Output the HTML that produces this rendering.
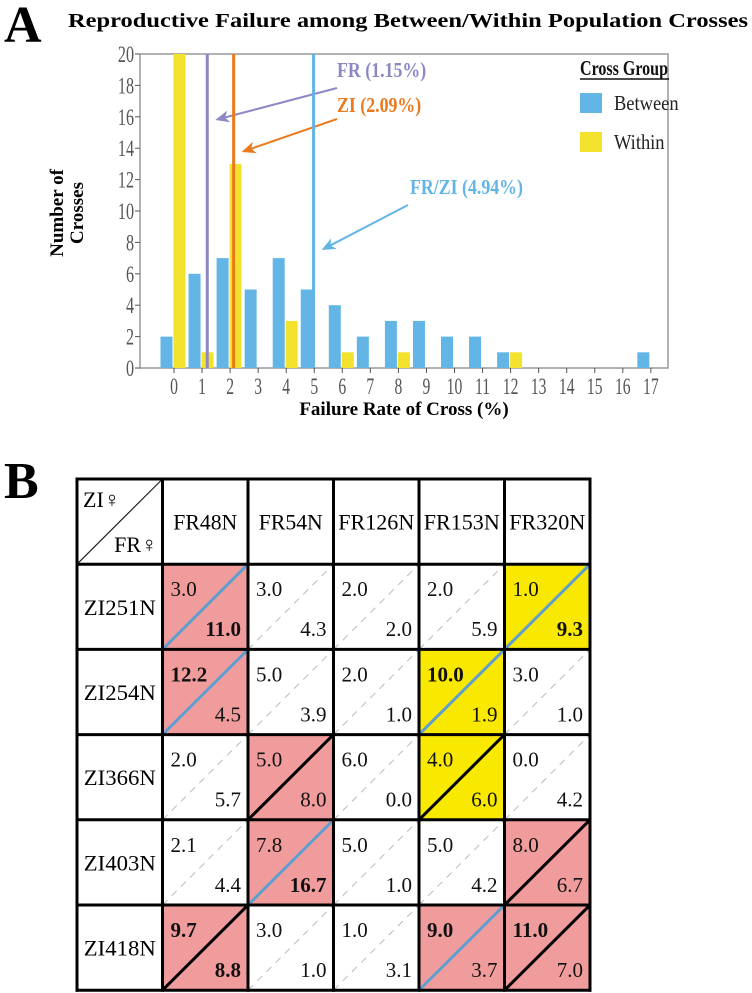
<!DOCTYPE html>
<html><head><meta charset="utf-8"><style>
html,body{margin:0;padding:0;background:#fff;width:752px;height:993px;overflow:hidden}
svg{display:block}
text{font-family:"Liberation Serif",serif}
</style></head><body>
<svg id="s" width="752" height="993" viewBox="0 0 752 993">
<text x="4" y="42" font-size="52" font-weight="bold">A</text>
<text x="68" y="27" font-size="19.5" font-weight="bold" textLength="680" lengthAdjust="spacingAndGlyphs">Reproductive Failure among Between/Within Population Crosses</text>
<g id="chart"></g>
<text x="4" y="498" font-size="52" font-weight="bold">B</text>
<g id="tbl"></g>
</svg>
<script>
const categories=[0,1,2,3,4,5,6,7,8,9,10,11,12,13,14,15,16,17];
const betweenValues=[2,6,7,5,7,5,4,2,3,3,2,2,1,0,0,0,0,1];
const withinValues=[20,1,13,0,3,0,1,0,1,0,0,0,1,0,0,0,0,0];
const yTicks=[0,2,4,6,8,10,12,14,16,18,20];
const refLabels=["FR (1.15%)","ZI (2.09%)","FR/ZI (4.94%)"];
const refValues=[1.15,2.09,4.94];
const NS='http://www.w3.org/2000/svg';
function mk(p,t,a){const e=document.createElementNS(NS,t);for(const k in a)e.setAttribute(k,a[k]);p.appendChild(e);return e;}
const L=140,R=668,T=54,B=368;
const x=v=>174+v*28.05;
const y=v=>B-(v/20)*(B-T);
const ch=document.getElementById('chart');
let r=mk(ch,'rect',{x:L,y:T,width:R-L,height:B-T,fill:'none',stroke:'#999','stroke-width':1.5});

yTicks.forEach(v=>{
 let l=mk(ch,'line',{x1:L-5,x2:L,y1:y(v),y2:y(v),stroke:'#555'});
 
 let t=mk(ch,'text',{x:L-6,y:y(v)+8,'text-anchor':'end','font-size':23,fill:'#555',transform:`translate(${L-6} 0) scale(0.7 1) translate(${-(L-6)} 0)`});
 t.textContent=v;
});
categories.forEach((c,i)=>{
 let l=mk(ch,'line',{x1:x(c),x2:x(c),y1:B,y2:B+5,stroke:'#555'});
 
 let t=mk(ch,'text',{x:x(c),y:B+26,'text-anchor':'middle','font-size':23,fill:'#555',transform:`translate(${x(c)} 0) scale(0.68 1) translate(${-x(c)} 0)`});
 t.textContent=c;
 if(betweenValues[i]>0){let b=mk(ch,'rect',{x:x(c)-13.5,y:y(betweenValues[i]),width:12,height:B-y(betweenValues[i]),fill:'#62b5e5'});
 }
 if(withinValues[i]>0){let b=mk(ch,'rect',{x:x(c)-0.5,y:y(withinValues[i]),width:12,height:B-y(withinValues[i]),fill:'#f2e22e'});
 }
});
const refColors=['#8c88c4','#ec7a1c','#62b5e5'];
const labelPos=[[337,77],[337,112],[410,194]];
const arrowStart=[[337,88],[337,119],[408,205]];
const arrowEndY=[120,152,250];
refValues.forEach((v,i)=>{
 let l=mk(ch,'line',{x1:x(v)+1,x2:x(v)+1,y1:T,y2:B,stroke:refColors[i],'stroke-width':3});
 
 const ex=x(v)+9,ey=arrowEndY[i],[sx,sy]=arrowStart[i];
 const ang=Math.atan2(ey-sy,ex-sx);
 let a=mk(ch,'line',{x1:sx,y1:sy,x2:ex-8*Math.cos(ang),y2:ey-8*Math.sin(ang),stroke:refColors[i],'stroke-width':2});
 
 const p=(d,s)=>[ex-d*Math.cos(ang)+s*Math.sin(ang),ey-d*Math.sin(ang)-s*Math.cos(ang)];
 const p1=p(14,6),p2=p(14,-6),p3=p(10,0);
 let h=mk(ch,'polygon',{points:`${ex},${ey} ${p1} ${p3} ${p2}`,fill:refColors[i]});
 
 let t=mk(ch,'text',{x:labelPos[i][0],y:labelPos[i][1],'font-size':21,'font-weight':'bold',fill:refColors[i],transform:`translate(${labelPos[i][0]} 0) scale(0.85 1) translate(${-labelPos[i][0]} 0)`});
 t.textContent=refLabels[i];
});
let lt=mk(ch,'text',{x:580,y:75,'font-size':21,'font-weight':'bold',fill:'#111',textLength:88,lengthAdjust:'spacingAndGlyphs'});
lt.textContent='Cross Group';
mk(ch,'line',{x1:580,x2:669,y1:79,y2:79,stroke:'#111','stroke-width':1.5});
[['Between','#62b5e5',93],['Within','#f2e22e',132]].forEach(([n,c,yy])=>{
 let s=mk(ch,'rect',{x:580,y:yy,width:22,height:20,fill:c});
 
 let t=mk(ch,'text',{x:614,y:yy+17,'font-size':21,fill:'#222',transform:`translate(614 0) scale(0.88 1) translate(-614 0)`});
 t.textContent=n;
});
let xt=mk(ch,'text',{x:404,y:415,'text-anchor':'middle','font-size':19,'font-weight':'bold'});
xt.textContent='Failure Rate of Cross (%)';
let yt=mk(ch,'text',{'text-anchor':'middle','font-size':19,'font-weight':'bold',transform:'translate(63 213) rotate(-90)'});

let ts1=mk(yt,'tspan',{x:0,y:0});ts1.textContent='Number of';
let ts2=mk(yt,'tspan',{x:0,y:20});ts2.textContent='Crosses';

// table
const colNames=['FR48N','FR54N','FR126N','FR153N','FR320N'];
const rowNames=['ZI251N','ZI254N','ZI366N','ZI403N','ZI418N'];
const topVals=[[3.0,3.0,2.0,2.0,1.0],[12.2,5.0,2.0,10.0,3.0],[2.0,5.0,6.0,4.0,0.0],[2.1,7.8,5.0,5.0,8.0],[9.7,3.0,1.0,9.0,11.0]];
const botVals=[[11.0,4.3,2.0,5.9,9.3],[4.5,3.9,1.0,1.9,1.0],[5.7,8.0,0.0,6.0,4.2],[4.4,16.7,1.0,4.2,6.7],[8.8,1.0,3.1,3.7,7.0]];
const fills=[['p','w','w','w','y'],['p','w','w','y','w'],['w','p','w','y','w'],['w','p','w','w','p'],['p','w','w','p','p']];
const diag=[['b','d','d','d','b'],['b','d','d','b','d'],['d','k','d','k','d'],['d','b','d','d','k'],['k','d','d','b','k']];
const boldTop=[[0,0,0,0,0],[1,0,0,1,0],[0,0,0,0,0],[0,0,0,0,0],[1,0,0,1,1]];
const boldBot=[[1,0,0,0,1],[0,0,0,0,0],[0,0,0,0,0],[0,1,0,0,0],[1,0,0,0,0]];
const tb=document.getElementById('tbl');
const TX=77,TY=479,CW=85.5,RH=85.2;
const cx=j=>TX+CW*(j+1), ry=i=>TY+RH*(i+1);
const fc={p:'#f19c9c',w:'#fff',y:'#f9e900'};
rowNames.forEach((rn,i)=>{
 colNames.forEach((cn,j)=>{
  const x0=cx(j),y0=ry(i);
  let c=mk(tb,'rect',{x:x0,y:y0,width:CW,height:RH,fill:fc[fills[i][j]]});
  
  const d=diag[i][j];
  const at={x1:x0,y1:y0+RH,x2:x0+CW,y2:y0};
  if(d==='b'){at.stroke='#5f9fd0';at['stroke-width']=3;}
  else if(d==='k'){at.stroke='#000';at['stroke-width']=3;}
  else {at.stroke='#bbb';at['stroke-width']=1;at['stroke-dasharray']='7 6';}
  let l=mk(tb,'line',at);
  let t1=mk(tb,'text',{x:x0+8,y:y0+32,'font-size':21,'font-weight':boldTop[i][j]?'bold':'normal',fill:'#111'});
  t1.textContent=topVals[i][j].toFixed(1);
  let t2=mk(tb,'text',{x:x0+CW-7,y:y0+72,'text-anchor':'end','font-size':21,'font-weight':boldBot[i][j]?'bold':'normal',fill:'#111'});
  t2.textContent=botVals[i][j].toFixed(1);
 });
 let rt=mk(tb,'text',{x:TX+CW/2,y:ry(i)+RH/2+8,'text-anchor':'middle','font-size':22,textLength:72,lengthAdjust:'spacingAndGlyphs'});
 rt.textContent=rn;
});
colNames.forEach((cn,j)=>{
 let t=mk(tb,'text',{x:cx(j)+CW/2,y:TY+RH/2+8,'text-anchor':'middle','font-size':22,textLength:cn.length>5?76:64,lengthAdjust:'spacingAndGlyphs'});
 t.textContent=cn;
});
mk(tb,'line',{x1:TX,y1:TY+RH,x2:TX+CW,y2:TY,stroke:'#222','stroke-width':1.2});
let c1=mk(tb,'text',{x:TX+6,y:TY+28,'font-size':22});c1.textContent='ZI♀';

let c2=mk(tb,'text',{x:TX+CW-5,y:TY+RH-12,'text-anchor':'end','font-size':22});c2.textContent='FR♀';

for(let k=0;k<=6;k++){
 mk(tb,'line',{x1:TX+CW*k,x2:TX+CW*k,y1:TY-1.5,y2:TY+RH*6+1.5,stroke:'#000','stroke-width':3});
 mk(tb,'line',{x1:TX-1.5,x2:TX+CW*6+1.5,y1:TY+RH*k,y2:TY+RH*k,stroke:'#000','stroke-width':3});
}
</script>
</body></html>
